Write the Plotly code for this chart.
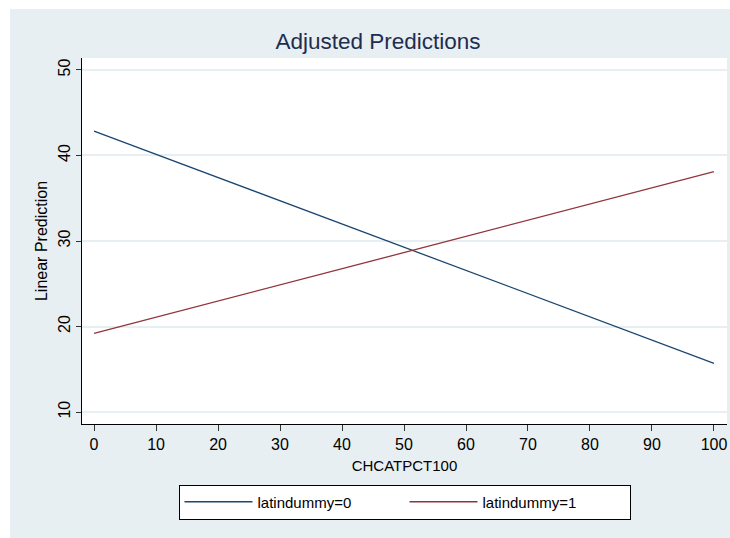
import plotly.graph_objects as go

# Data
x_vals = [0, 100]
pred_latin0 = [42.85, 15.7]
pred_latin1 = [19.2, 38.1]
series_names = ["latindummy=0", "latindummy=1"]
x_ticks = [0, 10, 20, 30, 40, 50, 60, 70, 80, 90, 100]
y_ticks = [10, 20, 30, 40, 50]

BG = "#E8EFF2"
FONT = "Liberation Sans, Arial, sans-serif"

fig = go.Figure()
fig.add_trace(go.Scatter(x=x_vals, y=pred_latin0, mode="lines", name=series_names[0],
                         line=dict(color="#1A476F", width=1.3)))
fig.add_trace(go.Scatter(x=x_vals, y=pred_latin1, mode="lines", name=series_names[1],
                         line=dict(color="#90353B", width=1.3)))

W, H = 730, 538
L, T = 82, 58
R = W - 727
B = H - 424
pw, ph = W - L - R, H - T - B

def px_x(p):
    return (p - L) / pw

def px_y(p):
    return (H - B - p) / ph

# white strips at the left and top edges (outer graph region offset)
shapes = [
    dict(type="rect", xref="paper", yref="paper", x0=px_x(-1), x1=px_x(10), y0=px_y(H + 2), y1=px_y(-1),
         fillcolor="white", line=dict(width=0), layer="below"),
    dict(type="rect", xref="paper", yref="paper", x0=px_x(-1), x1=px_x(W + 1), y0=px_y(9), y1=px_y(-1),
         fillcolor="white", line=dict(width=0), layer="below"),
]

fig.update_layout(
    width=W, height=H,
    margin=dict(l=L, r=R, t=T, b=B, autoexpand=False),
    paper_bgcolor=BG, plot_bgcolor="white",
    font=dict(family=FONT, size=15, color="black"),
    title=dict(text="Adjusted Predictions", x=378 / W, xref="container",
               y=1 - 41 / H, yref="container", xanchor="center", yanchor="middle",
               font=dict(family=FONT, size=22.5, color="#1E2D50")),
    shapes=shapes,
    showlegend=True,
    legend=dict(orientation="h", x=0.5, xanchor="center", y=px_y(502), yanchor="middle",
                bgcolor="white", bordercolor="black", borderwidth=1,
                font=dict(family=FONT, size=15, color="black"),
                itemwidth=68, entrywidth=142, entrywidthmode="pixels"),
    xaxis=dict(range=[-1.94, 102.1], tickvals=x_ticks, ticks="outside", ticklen=6,
               tickcolor="#333333", showline=True, linecolor="black", linewidth=1,
               showgrid=False, zeroline=False, tickfont=dict(size=16),
               title=dict(text="CHCATPCT100", font=dict(size=15), standoff=8)),
    yaxis=dict(range=[8.6, 51.4], tickvals=y_ticks, ticks="outside", ticklen=5,
               tickcolor="#333333", tickangle=-90, showline=True, linecolor="black", linewidth=1,
               showgrid=True, gridcolor=BG, gridwidth=2, zeroline=False,
               tickfont=dict(size=16),
               title=dict(text="Linear Prediction", font=dict(size=16), standoff=3)),
)

fig.write_html(
    "out.html",
    config={"displayModeBar": False},
    post_script="document.body.style.margin='0';document.body.style.overflow='hidden';",
)
